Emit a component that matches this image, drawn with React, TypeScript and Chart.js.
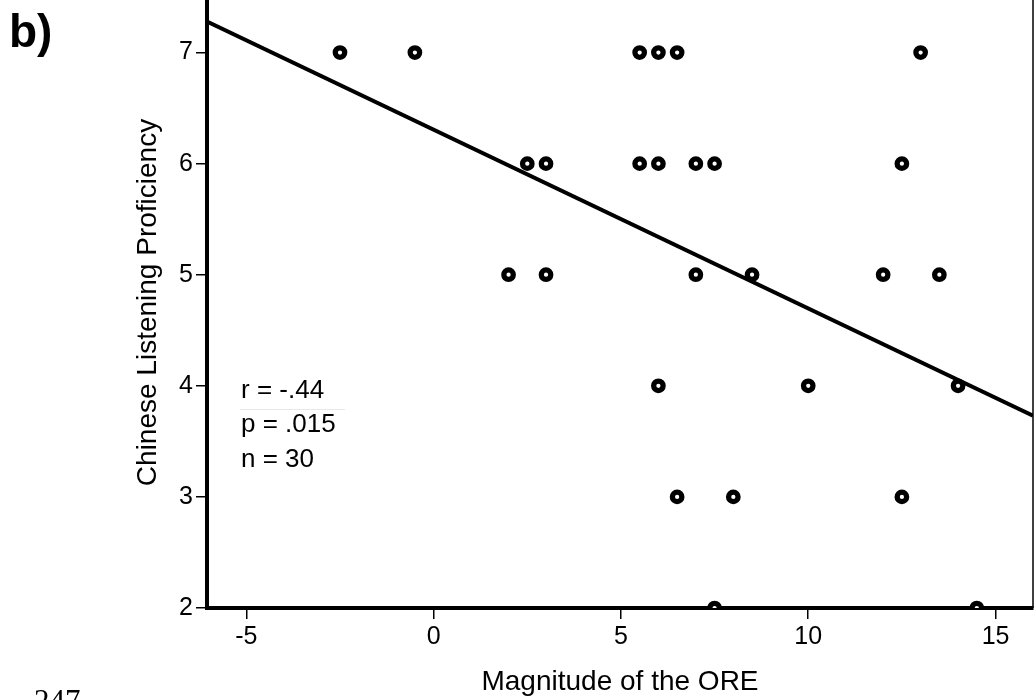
import { useEffect, useRef } from "react";
import { Chart, registerables } from "chart.js";

Chart.register(...registerables);

const xTickValues = [-5, 0, 5, 10, 15];
const yTickValues = [2, 3, 4, 5, 6, 7];
const oreMagnitude = [
  -2.5, -0.5, 5.5, 6, 6.5, 13,
  2.5, 3, 5.5, 6, 7, 7.5, 12.5,
  2, 3, 7, 8.5, 12, 13.5,
  6, 10, 14,
  6.5, 8, 12.5,
  7.5, 14.5,
];
const listeningProficiency = [
  7, 7, 7, 7, 7, 7,
  6, 6, 6, 6, 6, 6, 6,
  5, 5, 5, 5, 5, 5,
  4, 4, 4,
  3, 3, 3,
  2, 2,
];
const fitLineX = [-6.05, 16];
const fitLineY = [7.28, 3.73];
const statLines = ["r = -.44", "p = .015", "n = 30"];
const xTitle = "Magnitude of the ORE";
const yTitle = "Chinese Listening Proficiency";
const panelLabel = "b)";
const pageNumber = "247";

const SANS = "'Liberation Sans', Arial, Helvetica, sans-serif";

const zeroPadding = (scale: any) => {
  scale.paddingLeft = 0;
  scale.paddingRight = 0;
  scale.paddingTop = 0;
  scale.paddingBottom = 0;
};

const overlayPlugin = {
  id: "overlay",
  afterDraw(chart: any) {
    const ctx = chart.ctx as CanvasRenderingContext2D;
    const area = chart.chartArea;
    ctx.save();
    // right frame line
    ctx.strokeStyle = "#000";
    ctx.lineWidth = 1.5;
    ctx.beginPath();
    ctx.moveTo(area.right, area.top);
    ctx.lineTo(area.right, area.bottom);
    ctx.stroke();

    // faint separator artifact
    ctx.strokeStyle = "#e8e8e8";
    ctx.lineWidth = 1;
    ctx.beginPath();
    ctx.moveTo(240, 412.5);
    ctx.lineTo(345, 412.5);
    ctx.stroke();

    // stats
    ctx.fillStyle = "#000";
    ctx.font = `26px ${SANS}`;
    ctx.textAlign = "left";
    ctx.textBaseline = "alphabetic";
    const baselines = [401, 435, 470];
    statLines.forEach((s, i) => ctx.fillText(s, 241, baselines[i]));

    // panel label
    ctx.font = `bold 46px ${SANS}`;
    ctx.fillText(panelLabel, 9, 50);

    // page number (cropped)
    ctx.font = `31px 'Liberation Serif', 'Times New Roman', serif`;
    ctx.fillText(pageNumber, 34, 714);
    ctx.restore();
  },
};

export default function App() {
  const ref = useRef<HTMLCanvasElement | null>(null);

  useEffect(() => {
    if (!ref.current) return;
    const points = oreMagnitude.map((x, i) => ({ x, y: listeningProficiency[i] }));
    const line = fitLineX.map((x, i) => ({ x, y: fitLineY[i] }));
    const chart = new Chart(ref.current, {
      type: "scatter",
      data: {
        datasets: [
          {
            type: "line",
            data: line,
            borderColor: "#000",
            borderWidth: 4,
            pointRadius: 0,
            fill: false,
            clip: 0,
            order: 2,
          } as any,
          {
            data: points,
            pointStyle: "circle",
            pointRadius: 4.75,
            pointBorderWidth: 5.25,
            pointBackgroundColor: "#fff",
            pointBorderColor: "#000",
            pointHoverRadius: 4.75,
            clip: 0,
            order: 1,
          } as any,
        ],
      },
      options: {
        responsive: false,
        animation: false,
        devicePixelRatio: 1,
        events: [],
        layout: { autoPadding: false, padding: { left: 0, right: 2, top: 0, bottom: 0 } },
        plugins: {
          legend: { display: false },
          tooltip: { enabled: false },
          title: { display: false },
        },
        scales: {
          x: {
            type: "linear",
            min: -6.05,
            max: 16,
            z: 1,
            afterBuildTicks: (scale: any) => {
              scale.ticks = xTickValues.map((v) => ({ value: v }));
            },
            afterFit: (scale: any) => {
              scale.height = 92;
              zeroPadding(scale);
            },
            border: { display: true, color: "#000", width: 4 },
            grid: {
              display: true,
              drawOnChartArea: false,
              drawTicks: true,
              tickLength: 11,
              color: "#000",
              lineWidth: 1.5,
            },
            ticks: {
              padding: 3,
              color: "#000",
              font: { family: SANS, size: 25 },
              maxRotation: 0,
              autoSkip: false,
            },
            title: {
              display: true,
              text: xTitle,
              color: "#000",
              font: { family: SANS, size: 28 },
              padding: { top: 0, bottom: 1 },
            },
          },
          y: {
            type: "linear",
            min: 2,
            max: 7.5,
            z: 1,
            afterBuildTicks: (scale: any) => {
              scale.ticks = yTickValues.map((v) => ({ value: v }));
            },
            afterFit: (scale: any) => {
              scale.width = 207;
              zeroPadding(scale);
            },
            border: { display: true, color: "#000", width: 4 },
            grid: {
              display: true,
              drawOnChartArea: false,
              drawTicks: true,
              tickLength: 11,
              color: "#000",
              lineWidth: 1.5,
            },
            ticks: {
              padding: 3,
              color: "#000",
              font: { family: SANS, size: 25 },
              autoSkip: false,
            },
            title: {
              display: true,
              text: yTitle,
              color: "#000",
              font: { family: SANS, size: 28 },
              padding: { top: 131, bottom: 0 },
            },
          },
        },
      } as any,
      plugins: [overlayPlugin],
    });
    return () => chart.destroy();
  }, []);

  return (
    <div style={{ position: "absolute", left: 0, top: 0, width: 1035, height: 700, overflow: "hidden", background: "#fff" }}>
      <canvas
        ref={ref}
        width={1035}
        height={703}
        style={{ position: "absolute", left: 0, top: -3, width: 1035, height: 703, display: "block" }}
      />
    </div>
  );
}
